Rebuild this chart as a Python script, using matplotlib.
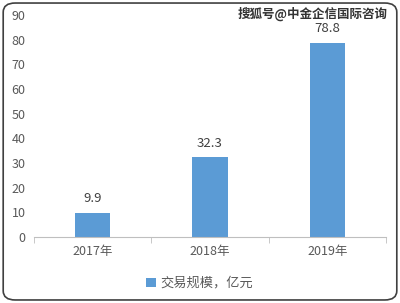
import matplotlib.pyplot as plt
from matplotlib.patches import FancyBboxPatch

years = ['2017年', '2018年', '2019年']
volume = [9.9, 32.3, 78.8]
series_name = '交易规模，亿元'

plt.rcParams['font.family'] = ['Noto Sans CJK SC', 'DejaVu Sans']
bar_color = '#5b9bd5'
text_gray = '#595959'

fig = plt.figure(figsize=(4, 3.03), dpi=100)
ax = fig.add_axes([0.085, 0.218, 0.88, 0.732])

x = list(range(len(years)))
bars = ax.bar(x, volume, width=0.3, color=bar_color, label=series_name)
for xi, v in zip(x, volume):
    ax.text(xi, v + 3, '{:.1f}'.format(v), ha='center', va='bottom',
            fontsize=9.5, color='#404040')

ax.set_xlim(-0.5, 2.5)
ax.set_ylim(0, 90)
ax.set_yticks(range(0, 91, 10))
ax.set_xticks(x)
ax.set_xticklabels(years)
ax.set_xticks([-0.5, 0.5, 1.5, 2.5], minor=True)
ax.tick_params(axis='x', which='major', length=0, pad=6, labelsize=9, labelcolor=text_gray)
ax.tick_params(axis='x', which='minor', length=4, color='#bfbfbf')
ax.tick_params(axis='y', length=0, pad=6, labelsize=9, labelcolor=text_gray)
for s in ['top', 'right', 'left']:
    ax.spines[s].set_visible(False)
ax.spines['bottom'].set_color('#bfbfbf')

fig.legend(loc='center', bbox_to_anchor=(0.5, 0.065), frameon=False,
           fontsize=9.5, handlelength=0.7, handleheight=0.7, handletextpad=0.4,
           labelcolor=text_gray)

fig.text(0.97, 0.955, '搜狐号@中金企信国际咨询', ha='right', va='center',
         fontsize=9, color='#333333', weight='bold')

border = FancyBboxPatch((0.008, 0.01), 0.984, 0.98, boxstyle='round,pad=0,rounding_size=0.03',
                        transform=fig.transFigure, fill=False, edgecolor='#404040', linewidth=1.2)
fig.patches.append(border)

fig.savefig('out.png', dpi=100)
